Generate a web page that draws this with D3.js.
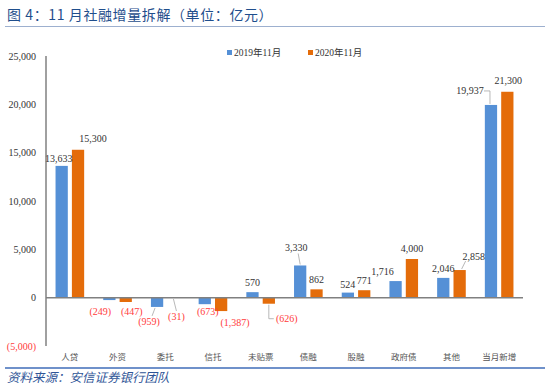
<!DOCTYPE html>
<html>
<head>
<meta charset="utf-8">
<script src="https://cdn.jsdelivr.net/npm/d3@7"></script>
<style>
  body { margin: 0; background: #fff; }
  svg { display: block; }
</style>
</head>
<body>
<script>
// data
var categories = ['人贷', '外资', '委托', '信托', '未贴票', '债融', '股融', '政府债', '其他', '当月新增'];
var seriesNames = ['2019年11月', '2020年11月'];
var values2019 = [13633, -249, -959, -673, 570, 3330, 524, 1716, 2046, 19937];
var values2020 = [15300, -447, -31, -1387, -626, 862, 771, 4000, 2858, 21300];
var yTicks = [-5000, 0, 5000, 10000, 15000, 20000, 25000];

var colors = ['#5590D6', '#E46C0A'];

// 0.size
var W = 550, H = 389;
var plot = {left: 46, right: 523, top: 56, bottom: 346};

var svg = d3.select('body').append('svg').attr('width', W).attr('height', H);

// 1.header / footer
svg.append('text')
    .attr('x', 7).attr('y', 20)
    .style('font', '14px "Noto Sans CJK SC"')
    .style('letter-spacing', '0.6px')
    .attr('fill', '#1F4E8C')
    .text('图 4：11 月社融增量拆解（单位：亿元）');
svg.append('line')
    .attr('x1', 5).attr('x2', 545).attr('y1', 26.5).attr('y2', 26.5)
    .attr('stroke', '#9DB0CF').attr('stroke-width', 1.2);
svg.append('line')
    .attr('x1', 5).attr('x2', 545).attr('y1', 368).attr('y2', 368)
    .attr('stroke', '#3F6CB8').attr('stroke-width', 1.5);
svg.append('text')
    .attr('x', 7).attr('y', 382)
    .style('font', 'italic 12.5px "Noto Sans CJK SC"')
    .attr('fill', '#2F5597')
    .text('资料来源：安信证券银行团队');

// 2.scales
var x0 = d3.scaleBand().domain(categories).range([plot.left, plot.right])
    .paddingInner(0.4).paddingOuter(0.2);
var x1 = d3.scaleBand().domain([0, 1]).range([0, x0.bandwidth()]).paddingInner(0.25);
var y = d3.scaleLinear().domain([-5000, 25000]).range([plot.bottom, plot.top]);

var fmt = d3.format(',');
function labelText(v) { return v < 0 ? '(' + fmt(-v) + ')' : fmt(v); }

// 3.y axis labels
svg.selectAll('.ytick').data(yTicks).enter().append('text')
    .attr('class', 'ytick')
    .attr('x', 36)
    .attr('y', function (d) { return y(d) + 3.5; })
    .attr('text-anchor', 'end')
    .style('font', '10px "Liberation Serif"')
    .attr('fill', function (d) { return d < 0 ? '#FF3B3B' : '#333'; })
    .text(labelText);

// 4.bars
var rows = [];
[values2019, values2020].forEach(function (vals, s) {
    vals.forEach(function (v, i) {
        rows.push({s: s, i: i, cat: categories[i], v: v});
    });
});

svg.selectAll('.bar').data(rows).enter().append('rect')
    .attr('class', 'bar')
    .attr('x', function (d) { return x0(d.cat) + x1(d.s); })
    .attr('width', x1.bandwidth())
    .attr('y', function (d) { return y(Math.max(0, d.v)); })
    .attr('height', function (d) { return Math.abs(y(d.v) - y(0)); })
    .attr('fill', function (d) { return colors[d.s]; });

// axes lines
svg.append('line')
    .attr('x1', plot.left).attr('x2', plot.left).attr('y1', plot.top).attr('y2', plot.bottom)
    .attr('stroke', '#808080').attr('stroke-width', 1.5);
svg.append('line')
    .attr('x1', plot.left).attr('x2', plot.right).attr('y1', y(0)).attr('y2', y(0))
    .attr('stroke', '#808080').attr('stroke-width', 1.5);

// category labels
svg.selectAll('.cat').data(categories).enter().append('text')
    .attr('class', 'cat')
    .attr('x', function (d) { return x0(d) + x0.bandwidth() / 2; })
    .attr('y', 360)
    .attr('text-anchor', 'middle')
    .style('font', '8.5px "Noto Sans CJK SC"')
    .attr('fill', '#555')
    .text(function (d) { return d; });

// 5.data labels (nudges like the excel original)
var nudge = {
    '0-0': [-3, -1], '1-0': [15, -5],
    '0-1': [-9, 3], '1-1': [6, 1],
    '0-2': [-8, 6], '1-2': [3, 10],
    '0-3': [3, -1], '1-3': [14, 3],
    '0-4': [0, -3], '1-4': [18, 6],
    '0-5': [-4, -11], '1-5': [0, -3],
    '0-6': [0, -2], '1-6': [0, -3],
    '0-7': [-13, -3], '1-7': [0, -4],
    '0-8': [0, -3], '1-8': [14, -7],
    '0-9': [-21, -8], '1-9': [1, -5]
};
var leaders = {
    '0-2': function (b, l) { return [[b.x - 2, b.y + 1], [l.x + 3, l.y - 9]]; },
    '1-2': function (b, l) { return [[b.x, b.y + 1], [l.x, l.y - 9]]; },
    '1-4': function (b, l) { return [[b.x, b.y + 1], [b.x, l.y - 3], [b.x + 5, l.y - 3]]; },
    '0-5': function (b, l) { return [[b.x, b.y - 1], [l.x + 2, l.y + 2]]; },
    '1-8': function (b, l) { return [[b.x + 2, b.y - 1], [l.x - 8, l.y + 1]]; },
    '0-9': function (b, l) { return [[l.x + 14, l.y - 3], [b.x - 1, l.y - 3], [b.x - 1, b.y - 1]]; }
};

rows.forEach(function (d) {
    var key = d.s + '-' + d.i;
    var bx = x0(d.cat) + x1(d.s) + x1.bandwidth() / 2;
    var by = y(d.v);
    var n = nudge[key] || [0, 0];
    var lx = bx + n[0];
    var ly = (d.v < 0 ? by + 12 : by - 3) + n[1];
    d.lx = lx; d.ly = ly;
    if (leaders[key]) {
        svg.append('path')
            .attr('d', d3.line()(leaders[key]({x: bx, y: by}, {x: lx, y: ly})))
            .attr('fill', 'none')
            .attr('stroke', '#A6A6A6')
            .attr('stroke-width', 0.8);
    }
});

svg.selectAll('.lbl').data(rows).enter().append('text')
    .attr('class', 'lbl')
    .attr('x', function (d) { return d.lx; })
    .attr('y', function (d) { return d.ly; })
    .attr('text-anchor', 'middle')
    .style('font', '10px "Liberation Serif"')
    .attr('fill', function (d) { return d.v < 0 ? '#FF3B3B' : '#333'; })
    .text(function (d) { return labelText(d.v); });

// 6.legend
var legend = svg.selectAll('.legend').data(seriesNames).enter().append('g')
    .attr('class', 'legend')
    .attr('transform', function (d, i) { return 'translate(' + (227 + i * 81) + ',50)'; });
legend.append('rect')
    .attr('x', 0).attr('y', 0).attr('width', 5).attr('height', 5)
    .attr('fill', function (d, i) { return colors[i]; });
legend.append('text')
    .attr('x', 7).attr('y', 5.5)
    .style('font', '9.5px "Liberation Serif", "Noto Sans CJK SC"')
    .attr('fill', '#333')
    .text(function (d) { return d; });
</script>
</body>
</html>
